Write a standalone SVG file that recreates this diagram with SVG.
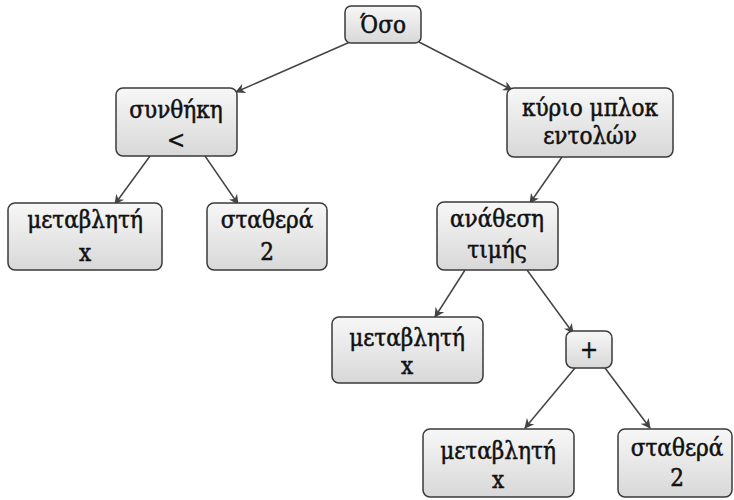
<svg xmlns="http://www.w3.org/2000/svg" width="734" height="500" viewBox="0 0 734 500">
<defs>
<linearGradient id="g" x1="0" y1="0" x2="0" y2="1">
<stop offset="0" stop-color="#f7f7f7"/>
<stop offset="1" stop-color="#d8d8d8"/>
</linearGradient>
<marker id="a" viewBox="0 0 10 10" refX="9" refY="5" markerWidth="10" markerHeight="10" markerUnits="userSpaceOnUse" orient="auto">
<path d="M0,0 L10,5 L0,10 L3,5 Z" fill="#444"/>
</marker>
<style>
rect{fill:url(#g);stroke:#3a3a3a;stroke-width:1.5}
text{font-family:"DejaVu Serif Condensed","DejaVu Serif",serif;font-size:24px;fill:#111;text-anchor:middle;stroke:#111;stroke-width:0.5}
.e line{stroke:#444;stroke-width:1.5;marker-end:url(#a)}
</style>
</defs>
<rect x="0" y="0" width="734" height="500" fill="#fff" style="fill:#fff;stroke:none"/>
<g class="e" id="edges">
<line x1="350" y1="42" x2="236" y2="92"/>
<line x1="419" y1="42" x2="512" y2="90"/>
<line x1="150" y1="156" x2="115" y2="204"/>
<line x1="205" y1="156" x2="238" y2="204"/>
<line x1="562" y1="157" x2="530" y2="203"/>
<line x1="465" y1="270" x2="435" y2="317"/>
<line x1="527" y1="270" x2="573" y2="333"/>
<line x1="575" y1="368" x2="525" y2="428"/>
<line x1="605" y1="368" x2="650" y2="428"/>
</g>
<g id="oso"><rect x="345" y="6" width="76" height="37" rx="6"/><text x="383" y="33">Όσο</text></g>
<g id="synthiki"><rect x="116" y="88" width="121" height="68" rx="7"/><text x="176" y="118">συνθήκη</text><text x="176" y="148">&lt;</text></g>
<g id="kyrio"><rect x="507" y="88" width="166" height="69" rx="7"/><text x="590" y="116">κύριο μπλοκ</text><text x="590" y="144">εντολών</text></g>
<g id="metavliti1"><rect x="8" y="203" width="154" height="67" rx="7"/><text x="85" y="228">μεταβλητή</text><text x="85" y="261">x</text></g>
<g id="stathera1"><rect x="207" y="203" width="120" height="67" rx="7"/><text x="267" y="228">σταθερά</text><text x="267" y="260">2</text></g>
<g id="anathesi"><rect x="437" y="202" width="121" height="68" rx="7"/><text x="497" y="227">ανάθεση</text><text x="497" y="258">τιμής</text></g>
<g id="metavliti2"><rect x="332" y="317" width="151" height="66" rx="7"/><text x="407" y="346">μεταβλητή</text><text x="407" y="374">x</text></g>
<g id="plus"><rect x="566" y="331" width="46" height="37" rx="7"/><text x="589" y="358">+</text></g>
<g id="metavliti3"><rect x="423" y="429" width="151" height="68" rx="7"/><text x="498" y="459">μεταβλητή</text><text x="498" y="488">x</text></g>
<g id="stathera2"><rect x="618" y="429" width="114" height="68" rx="7"/><text x="677" y="456">σταθερά</text><text x="677" y="486">2</text></g>
</svg>
